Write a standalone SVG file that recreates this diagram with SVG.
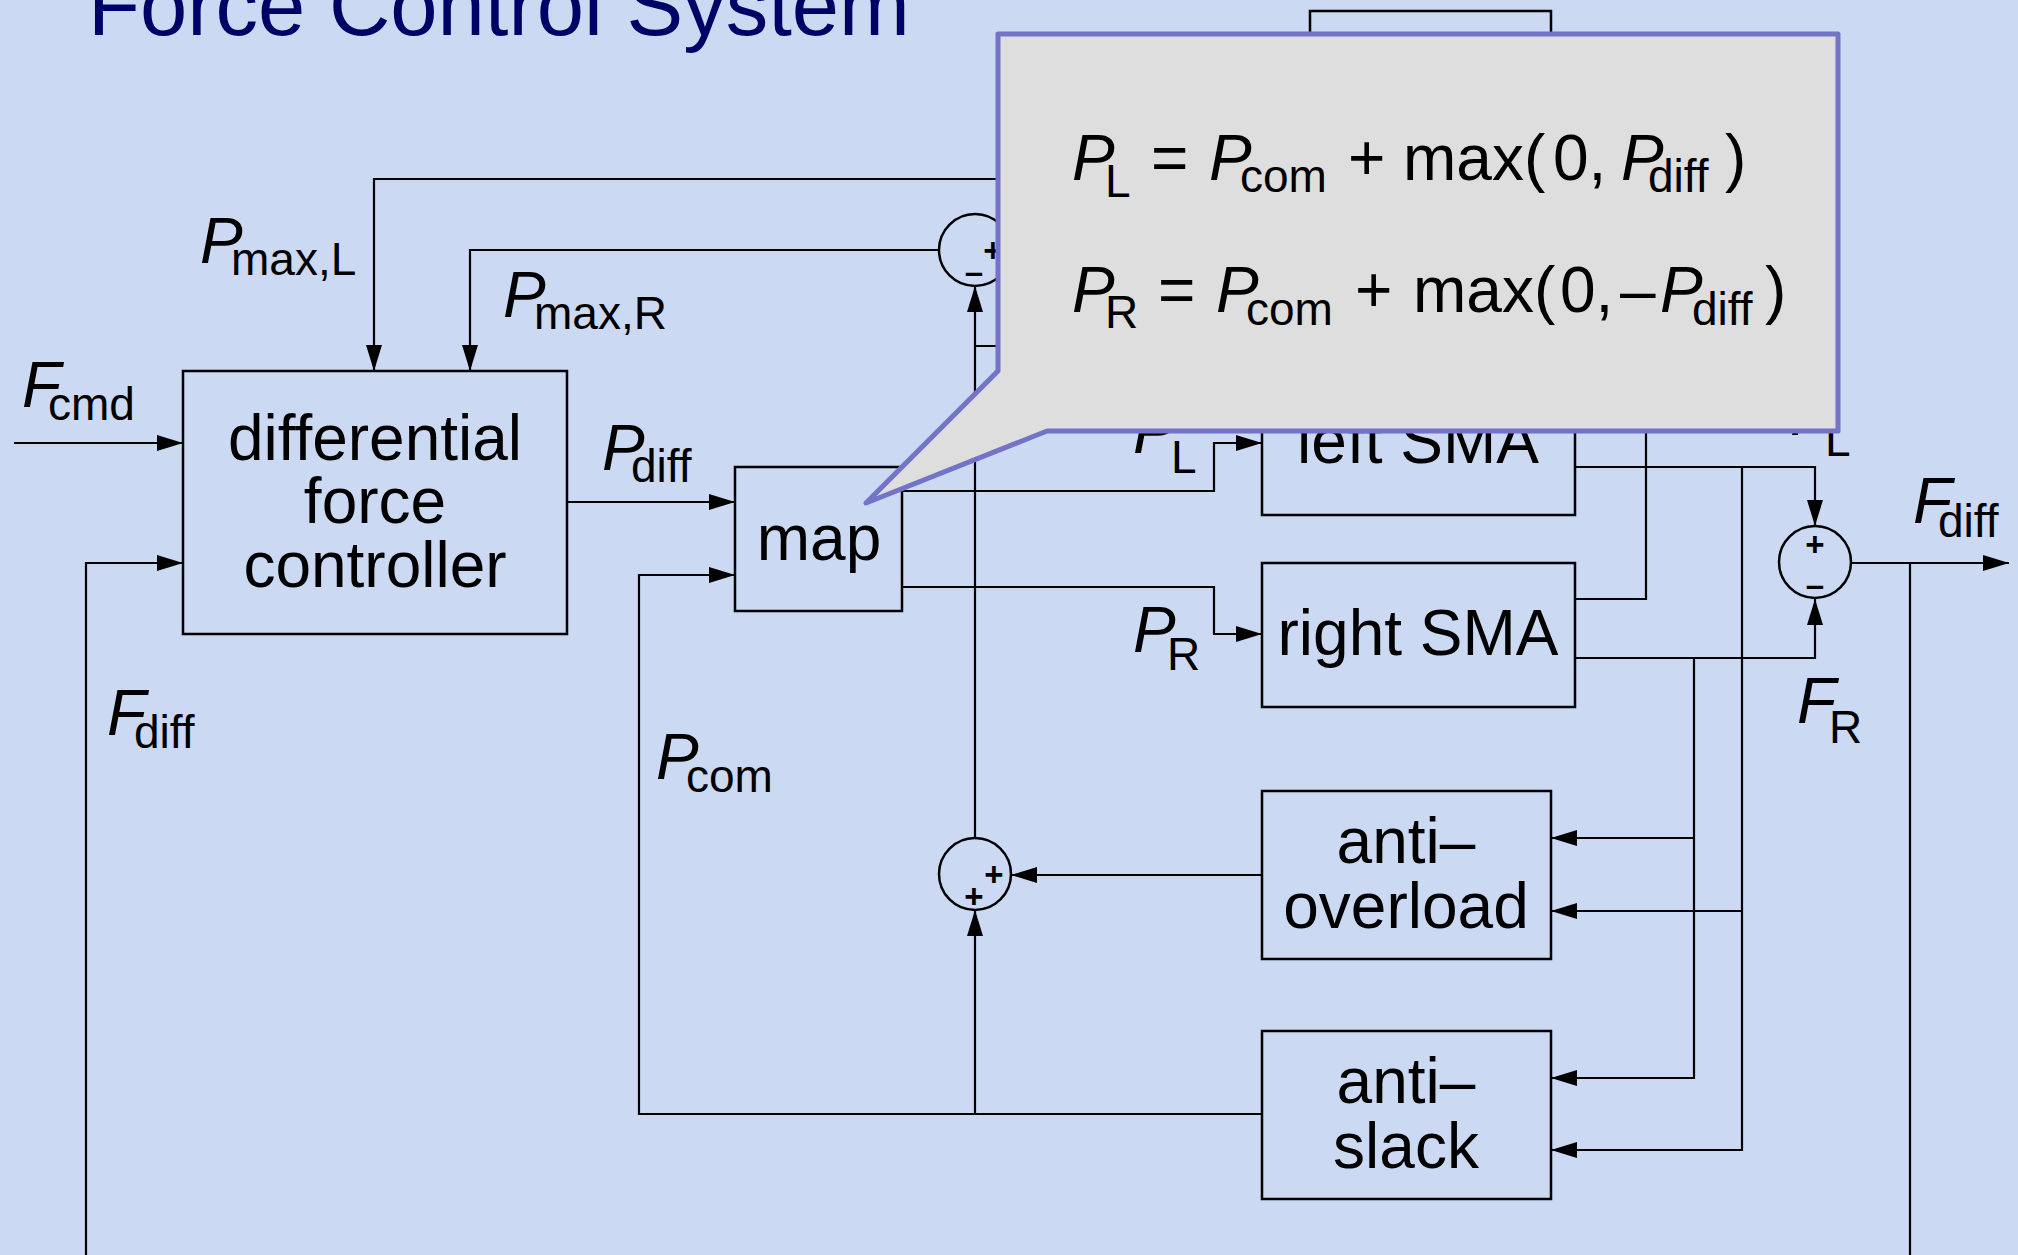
<svg xmlns="http://www.w3.org/2000/svg" width="2018" height="1255" viewBox="0 0 2018 1255">
<style>
  .bg{fill:#cbd9f2}
  .box{fill:none;stroke:#000;stroke-width:2.5}
  .sum{fill:none;stroke:#000;stroke-width:2.5}
  .wire{fill:none;stroke:#000;stroke-width:2.2}
  .lbl{font-family:"Liberation Sans",Arial,sans-serif;font-size:64px;fill:#000}
  .it{font-family:"Liberation Sans",Arial,sans-serif;font-size:64px;font-style:italic;fill:#000}
  .sub{font-family:"Liberation Sans",Arial,sans-serif;font-size:46px;fill:#000}
  .ctr{text-anchor:middle}
  .sgn{font-family:"Liberation Sans",Arial,sans-serif;font-size:33px;font-weight:bold;text-anchor:middle;fill:#000}
  .title{font-family:"Liberation Sans",Arial,sans-serif;font-size:85px;fill:#000066}
  .callout{fill:#dedede;stroke:#7373c8;stroke-width:5;stroke-linejoin:round}
</style>
<defs>
  <marker id="ah" markerWidth="26" markerHeight="16" refX="26" refY="8" orient="auto" markerUnits="userSpaceOnUse">
    <path d="M0,0 L26,8 L0,16 z" fill="#000"/>
  </marker>
</defs>
<rect class="bg" x="0" y="0" width="2018" height="1255"/>
<text class="title" x="88" y="35">Force Control System</text>

<g id="connectors">
  <path class="wire" d="M14,443 H183" marker-end="url(#ah)"/>
  <path class="wire" d="M86,1260 V563 H183" marker-end="url(#ah)"/>
  <path class="wire" d="M1910,563 V1260"/>
  <path class="wire" d="M1100,179 H374 V371" marker-end="url(#ah)"/>
  <path class="wire" d="M939,250 H470 V371" marker-end="url(#ah)"/>
  <path class="wire" d="M567,502 H735" marker-end="url(#ah)"/>
  <path class="wire" d="M1262,1114 H639 V575 H735" marker-end="url(#ah)"/>
  <path class="wire" d="M975,1114 V910" marker-end="url(#ah)"/>
  <path class="wire" d="M1262,875 H1011" marker-end="url(#ah)"/>
  <path class="wire" d="M975,838 V286" marker-end="url(#ah)"/>
  <path class="wire" d="M975,346 H1100"/>
  <path class="wire" d="M902,491 H1214 V443 H1262" marker-end="url(#ah)"/>
  <path class="wire" d="M902,587 H1214 V634 H1262" marker-end="url(#ah)"/>
  <path class="wire" d="M1575,467 H1815 V526" marker-end="url(#ah)"/>
  <path class="wire" d="M1575,658 H1815 V599" marker-end="url(#ah)"/>
  <path class="wire" d="M1851,563 H2009" marker-end="url(#ah)"/>
  <path class="wire" d="M1694,658 V1078 H1551" marker-end="url(#ah)"/>
  <path class="wire" d="M1694,838 H1551" marker-end="url(#ah)"/>
  <path class="wire" d="M1742,467 V1150 H1551" marker-end="url(#ah)"/>
  <path class="wire" d="M1742,911 H1551" marker-end="url(#ah)"/>
  <path class="wire" d="M1575,599 H1646 V300"/>
</g>

<g id="top-box"><rect class="box" x="1310" y="11" width="241" height="150"/></g>

<g id="controller">
  <rect class="box" x="183" y="371" width="384" height="263"/>
  <text class="lbl ctr" x="375" y="460">differential</text>
  <text class="lbl ctr" x="375" y="523">force</text>
  <text class="lbl ctr" x="375" y="587">controller</text>
</g>
<g id="map">
  <rect class="box" x="735" y="467" width="167" height="144"/>
  <text class="lbl ctr" x="819" y="560">map</text>
</g>
<g id="left-sma">
  <rect class="box" x="1262" y="371" width="313" height="144"/>
  <text class="lbl ctr" x="1418" y="463">left SMA</text>
</g>
<g id="right-sma">
  <rect class="box" x="1262" y="563" width="313" height="144"/>
  <text class="lbl ctr" x="1418" y="655">right SMA</text>
</g>
<g id="anti-overload">
  <rect class="box" x="1262" y="791" width="289" height="168"/>
  <text class="lbl ctr" x="1406" y="863">anti–</text>
  <text class="lbl ctr" x="1406" y="928">overload</text>
</g>
<g id="anti-slack">
  <rect class="box" x="1262" y="1031" width="289" height="168"/>
  <text class="lbl ctr" x="1406" y="1103">anti–</text>
  <text class="lbl ctr" x="1406" y="1168">slack</text>
</g>
<g id="sum-top">
  <circle class="sum" cx="975" cy="250" r="36"/>
  <text class="sgn" x="993" y="262">+</text>
  <text class="sgn" x="974" y="283">–</text>
</g>
<g id="sum-bottom">
  <circle class="sum" cx="975" cy="874" r="36"/>
  <text class="sgn" x="994" y="886">+</text>
  <text class="sgn" x="974" y="908">+</text>
</g>
<g id="sum-right">
  <circle class="sum" cx="1815" cy="562" r="36"/>
  <text class="sgn" x="1815" y="556">+</text>
  <text class="sgn" x="1815" y="596">–</text>
</g>

<g id="labels">
  <text class="it" x="22" y="407">F</text><text class="sub" x="48" y="420">cmd</text>
  <text class="it" x="200" y="263">P</text><text class="sub" x="231" y="275">max,L</text>
  <text class="it" x="503" y="317">P</text><text class="sub" x="534" y="329">max,R</text>
  <text class="it" x="602" y="470">P</text><text class="sub" x="631" y="482">diff</text>
  <text class="it" x="107" y="735">F</text><text class="sub" x="134" y="748">diff</text>
  <text class="it" x="656" y="779">P</text><text class="sub" x="686" y="792">com</text>
  <text class="it" x="1133" y="453">P</text><text class="sub" x="1171" y="473">L</text>
  <text class="it" x="1133" y="652">P</text><text class="sub" x="1167" y="670">R</text>
  <text class="it" x="1790" y="435">F</text><text class="sub" x="1825" y="456">L</text>
  <text class="it" x="1797" y="723">F</text><text class="sub" x="1829" y="743">R</text>
  <text class="it" x="1913" y="523">F</text><text class="sub" x="1938" y="537">diff</text>
</g>

<g id="callout">
  <path class="callout" d="M998,34 H1838 V431 H1047 L866,503 L998,371 Z"/>
  <text class="it" x="1072" y="180">P</text>
  <text class="sub" x="1105" y="197">L</text>
  <text class="lbl" x="1151" y="180">=</text>
  <text class="it" x="1209" y="180">P</text>
  <text class="sub" x="1240" y="192">com</text>
  <text class="lbl" x="1348" y="180">+</text>
  <text class="lbl" x="1403" y="180">max(</text>
  <text class="lbl" x="1553" y="180">0,</text>
  <text class="it" x="1621" y="180">P</text>
  <text class="sub" x="1648" y="192">diff</text>
  <text class="lbl" x="1725" y="180">)</text>

  <text class="it" x="1072" y="312">P</text>
  <text class="sub" x="1105" y="328">R</text>
  <text class="lbl" x="1158" y="312">=</text>
  <text class="it" x="1216" y="312">P</text>
  <text class="sub" x="1246" y="325">com</text>
  <text class="lbl" x="1355" y="312">+</text>
  <text class="lbl" x="1413" y="312">max(</text>
  <text class="lbl" x="1560" y="312">0,</text>
  <text class="lbl" x="1620" y="312">–</text>
  <text class="it" x="1660" y="312">P</text>
  <text class="sub" x="1692" y="325">diff</text>
  <text class="lbl" x="1765" y="312">)</text>
</g>
</svg>
